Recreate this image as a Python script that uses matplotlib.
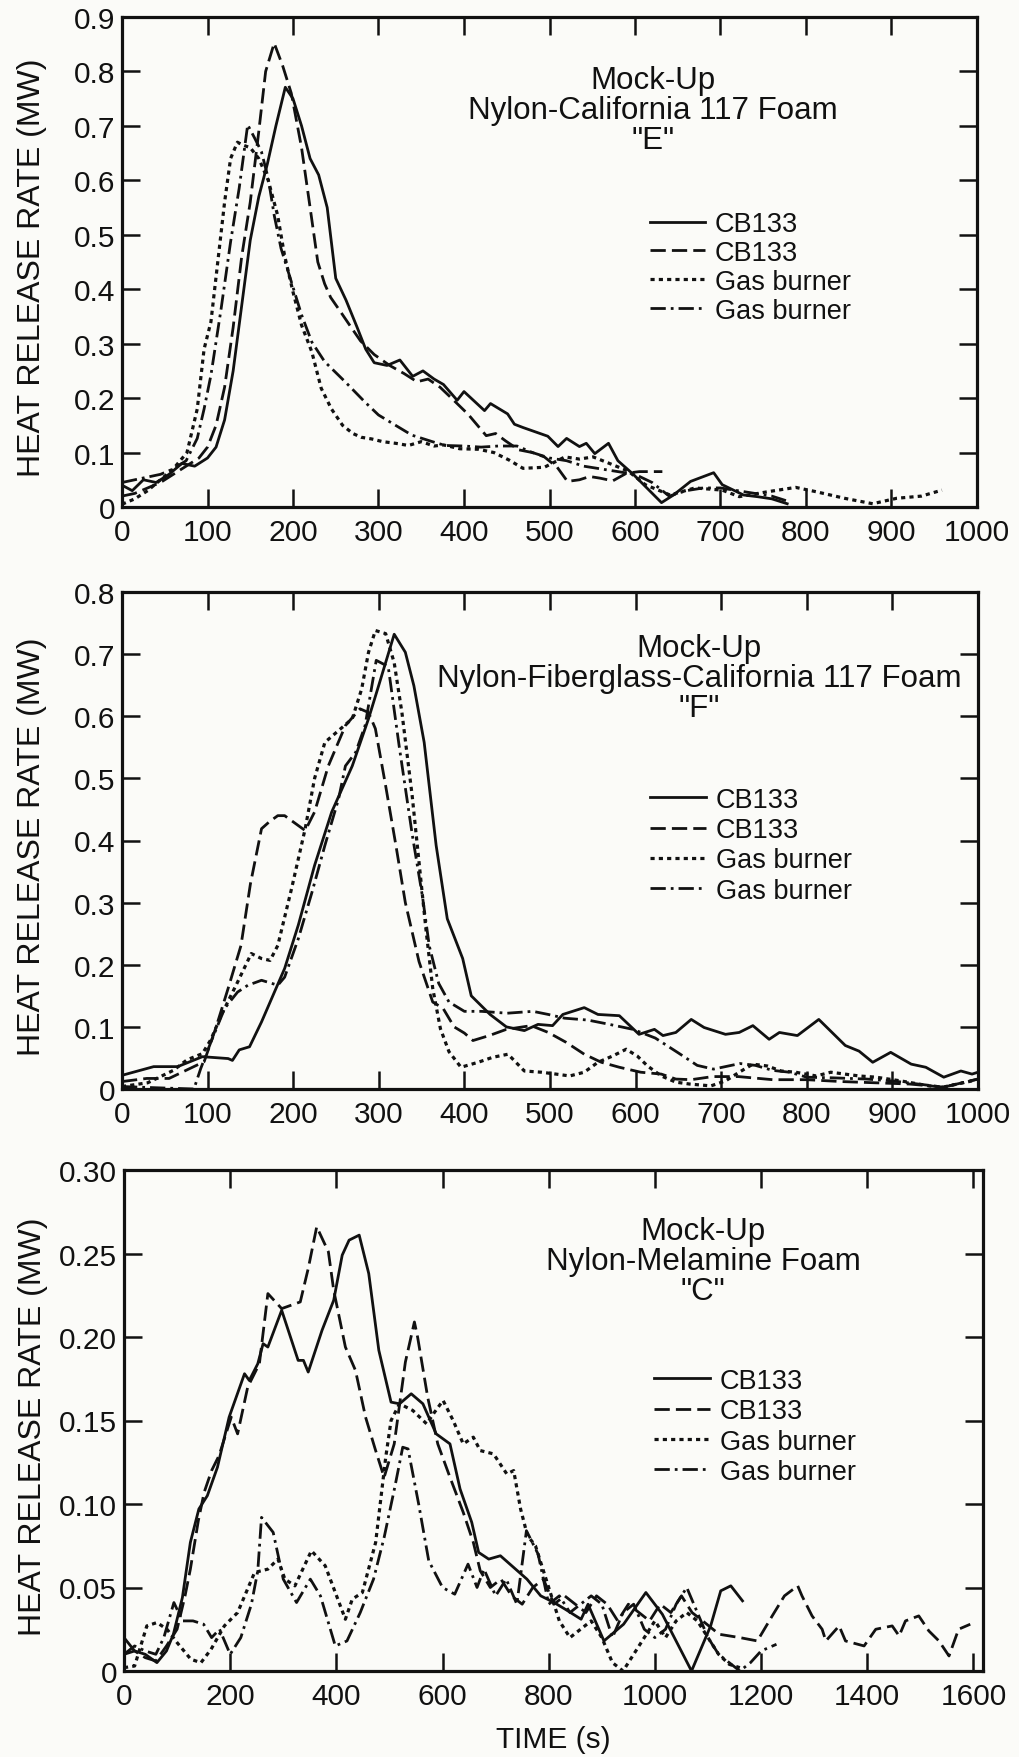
import matplotlib.pyplot as plt

plt.rcParams["font.family"] = ["Liberation Sans", "DejaVu Sans"]

# ---- panel "E": Nylon-California 117 Foam ----
e_cb133_solid_t = [0, 12, 25, 40, 55, 70, 85, 100, 110, 120, 130, 140, 150, 160, 170, 180, 191, 200, 210, 220,
                   230, 240, 250, 262, 275, 285, 295, 310, 325, 340, 352, 365, 376, 392, 400, 424, 431, 451, 459, 469,
                   498, 510, 520, 535, 543, 553, 569, 580, 598, 631, 645, 665, 692, 702, 727, 743, 760, 778]
e_cb133_solid_v = [0.04, 0.03, 0.05, 0.045, 0.06, 0.08, 0.075, 0.09, 0.11, 0.16, 0.25, 0.37, 0.49, 0.57, 0.63, 0.70, 0.771, 0.75, 0.70, 0.64,
                   0.61, 0.55, 0.42, 0.38, 0.33, 0.29, 0.265, 0.26, 0.27, 0.24, 0.25, 0.235, 0.225, 0.196, 0.212, 0.177, 0.19, 0.171, 0.152, 0.146,
                   0.13, 0.111, 0.126, 0.111, 0.117, 0.098, 0.117, 0.085, 0.06, 0.008, 0.022, 0.047, 0.063, 0.041, 0.022, 0.019, 0.015, 0.006]

e_cb133_dash_t = [0, 15, 30, 45, 60, 75, 90, 100, 110, 120, 130, 140, 150, 160, 168, 178, 188, 198, 210, 220,
                  229, 237, 244, 255, 268, 279, 295, 313, 330, 345, 358, 372, 388, 405, 426, 437, 449, 464, 480, 494,
                  509, 521, 535, 547, 559, 574, 590, 605, 632]
e_cb133_dash_v = [0.02, 0.025, 0.035, 0.045, 0.06, 0.075, 0.09, 0.11, 0.15, 0.22, 0.33, 0.46, 0.56, 0.69, 0.80, 0.852, 0.81, 0.76, 0.66, 0.55,
                  0.45, 0.41, 0.385, 0.36, 0.33, 0.305, 0.28, 0.26, 0.245, 0.23, 0.235, 0.22, 0.196, 0.17, 0.131, 0.135, 0.121, 0.105, 0.10, 0.092,
                  0.073, 0.047, 0.05, 0.056, 0.053, 0.048, 0.062, 0.065, 0.065]

e_gas_dot_t = [0, 15, 30, 45, 60, 76, 88, 96, 104, 112, 120, 127, 135, 141, 150, 160, 171, 182, 190, 200,
               210, 222, 233, 245, 258, 270, 280, 292, 305, 320, 335, 350, 365, 376, 395, 417, 435, 453, 469, 494,
               518, 535, 551, 567, 592, 612, 641, 670, 702, 722, 755, 788, 812, 845, 878, 906, 935, 959]
e_gas_dot_v = [0.005, 0.015, 0.03, 0.05, 0.07, 0.10, 0.18, 0.29, 0.34, 0.45, 0.56, 0.64, 0.67, 0.665, 0.66, 0.64, 0.60, 0.536, 0.463, 0.395,
               0.334, 0.285, 0.218, 0.18, 0.15, 0.135, 0.128, 0.125, 0.12, 0.117, 0.113, 0.12, 0.112, 0.114, 0.107, 0.106, 0.10, 0.086, 0.071, 0.073,
               0.092, 0.088, 0.092, 0.082, 0.066, 0.041, 0.022, 0.035, 0.031, 0.019, 0.028, 0.036, 0.028, 0.016, 0.006, 0.016, 0.02, 0.031]

e_gas_dashdot_t = [0, 15, 30, 45, 60, 75, 88, 96, 104, 116, 127, 137, 147, 155, 163, 171, 178, 186, 198, 210,
                   222, 237, 261, 284, 300, 320, 339, 363, 378, 400, 420, 440, 462, 480, 500, 520, 540, 560, 580, 600,
                   620, 640, 660, 680, 700, 720, 740, 760, 780]
e_gas_dashdot_v = [0.045, 0.05, 0.055, 0.06, 0.07, 0.085, 0.126, 0.18, 0.242, 0.365, 0.487, 0.585, 0.702, 0.678, 0.653, 0.604, 0.536, 0.475, 0.414, 0.353,
                   0.303, 0.267, 0.23, 0.193, 0.169, 0.15, 0.132, 0.12, 0.113, 0.112, 0.11, 0.112, 0.112, 0.1, 0.09, 0.085, 0.075, 0.07, 0.065, 0.06,
                   0.045, 0.02, 0.03, 0.035, 0.035, 0.03, 0.025, 0.02, 0.01]

# ---- panel "F": Nylon-Fiberglass-California 117 Foam ----
f_cb133_solid_t = [0, 37, 65, 94, 124, 129, 137, 149, 163, 190, 206, 225, 245, 269, 288, 300, 318, 331, 341, 353,
                   367, 380, 398, 408, 430, 449, 470, 486, 503, 515, 540, 556, 581, 604, 622, 632, 647, 665, 680, 705,
                   721, 737, 756, 768, 789, 814, 845, 861, 877, 898, 922, 939, 960, 980, 993, 1000]
f_cb133_solid_v = [0.022, 0.036, 0.036, 0.052, 0.049, 0.046, 0.063, 0.068, 0.108, 0.194, 0.264, 0.36, 0.446, 0.52, 0.596, 0.65, 0.732, 0.703, 0.649, 0.558,
                   0.392, 0.274, 0.21, 0.15, 0.12, 0.1, 0.094, 0.104, 0.102, 0.12, 0.131, 0.12, 0.118, 0.088, 0.096, 0.086, 0.091, 0.112, 0.099, 0.088,
                   0.091, 0.102, 0.08, 0.091, 0.086, 0.112, 0.07, 0.061, 0.043, 0.059, 0.04, 0.035, 0.019, 0.029, 0.024, 0.027]

f_cb133_dash_t = [0, 29, 55, 96, 110, 124, 139, 150, 163, 172, 182, 190, 200, 214, 225, 241, 261, 278, 288, 296,
                  308, 320, 331, 347, 363, 375, 388, 400, 410, 429, 449, 478, 498, 519, 540, 560, 581, 606, 630, 647,
                  665, 690, 720, 760, 800, 840, 880, 920, 960, 1000]
f_cb133_dash_v = [0.012, 0.017, 0.017, 0.044, 0.1, 0.162, 0.231, 0.33, 0.419, 0.43, 0.44, 0.44, 0.43, 0.416, 0.446, 0.52, 0.585, 0.612, 0.606, 0.58,
                  0.488, 0.392, 0.3, 0.205, 0.14, 0.13, 0.1, 0.09, 0.078, 0.086, 0.096, 0.102, 0.091, 0.075, 0.056, 0.043, 0.035, 0.027, 0.024, 0.016,
                  0.015, 0.02, 0.02, 0.015, 0.015, 0.012, 0.01, 0.008, 0.003, 0.016]

f_gas_dot_t = [0, 30, 60, 76, 94, 104, 116, 135, 151, 163, 173, 182, 198, 214, 225, 237, 253, 269, 280, 288,
               296, 308, 318, 327, 339, 347, 355, 363, 372, 382, 396, 416, 433, 451, 470, 490, 507, 523, 540, 556,
               573, 589, 602, 614, 630, 647, 663, 688, 705, 721, 737, 754, 770, 787, 811, 828, 861, 881, 910, 943,
               959, 993]
f_gas_dot_v = [0.004, 0.01, 0.03, 0.047, 0.057, 0.08, 0.119, 0.172, 0.218, 0.21, 0.207, 0.231, 0.322, 0.419, 0.5, 0.558, 0.577, 0.596, 0.644, 0.703,
               0.738, 0.733, 0.686, 0.606, 0.472, 0.365, 0.258, 0.162, 0.097, 0.06, 0.035, 0.043, 0.051, 0.056, 0.029, 0.027, 0.024, 0.021, 0.027, 0.043,
               0.053, 0.064, 0.053, 0.037, 0.021, 0.011, 0.008, 0.005, 0.013, 0.027, 0.04, 0.037, 0.029, 0.027, 0.021, 0.027, 0.021, 0.019, 0.013, 0.005,
               0.003, 0.013]

f_gas_dashdot_t = [0, 40, 84, 92, 104, 120, 135, 147, 163, 175, 182, 190, 206, 222, 237, 253, 261, 273, 284, 297,
                   311, 324, 339, 351, 359, 370, 382, 400, 420, 450, 480, 498, 517, 544, 566, 597, 623, 650, 672, 691,
                   722, 740, 760, 780, 800, 830, 870, 900, 930, 960, 1000]
f_gas_dashdot_v = [0.004, 0.002, 0.0, 0.033, 0.076, 0.13, 0.156, 0.167, 0.175, 0.17, 0.167, 0.18, 0.242, 0.317, 0.392, 0.467, 0.52, 0.542, 0.585, 0.69,
                   0.68, 0.55, 0.41, 0.31, 0.23, 0.17, 0.14, 0.125, 0.125, 0.122, 0.125, 0.12, 0.114, 0.111, 0.105, 0.096, 0.082, 0.058, 0.038, 0.032,
                   0.041, 0.038, 0.03, 0.027, 0.019, 0.018, 0.016, 0.013, 0.008, 0.003, 0.016]

# ---- panel "C": Nylon-Melamine Foam ----
c_cb133_solid_t = [0, 20, 40, 62, 80, 93, 110, 125, 141, 157, 176, 198, 227, 236, 252, 262, 271, 297, 328, 338,
                   347, 373, 395, 411, 424, 443, 461, 480, 503, 519, 541, 563, 588, 614, 633, 655, 668, 687, 709, 734,
                   759, 785, 810, 831, 861, 874, 904, 941, 983, 1014, 1069, 1105, 1124, 1143, 1165]
c_cb133_solid_v = [0.02, 0.012, 0.01, 0.005, 0.012, 0.022, 0.044, 0.077, 0.097, 0.105, 0.122, 0.152, 0.178, 0.174, 0.184, 0.196, 0.194, 0.216, 0.186, 0.186,
                   0.179, 0.204, 0.222, 0.249, 0.258, 0.261, 0.238, 0.192, 0.161, 0.16, 0.166, 0.16, 0.142, 0.136, 0.109, 0.089, 0.071, 0.067, 0.069, 0.062,
                   0.055, 0.045, 0.041, 0.037, 0.031, 0.04, 0.018, 0.028, 0.047, 0.034, 0.0, 0.027, 0.048, 0.051, 0.042]

c_cb133_dash_t = [0, 20, 40, 60, 80, 100, 115, 125, 140, 151, 165, 179, 202, 214, 233, 255, 271, 297, 332, 347,
                  363, 385, 395, 417, 436, 455, 474, 490, 509, 530, 547, 553, 572, 591, 614, 639, 658, 671, 690, 710,
                  730, 750, 770, 790, 810, 830, 850, 870, 890, 910, 930, 950, 970, 990, 1010, 1030, 1050, 1070, 1090, 1121,
                  1160, 1193, 1221, 1244, 1269, 1277, 1296, 1315, 1322, 1347, 1359, 1394, 1416, 1447, 1460, 1472, 1497, 1516, 1535, 1554,
                  1572, 1594]
c_cb133_dash_v = [0.01, 0.012, 0.008, 0.006, 0.015, 0.025, 0.045, 0.061, 0.09, 0.107, 0.12, 0.129, 0.152, 0.142, 0.17, 0.184, 0.226, 0.217, 0.221, 0.241,
                  0.266, 0.251, 0.228, 0.194, 0.18, 0.152, 0.132, 0.116, 0.136, 0.185, 0.209, 0.2, 0.164, 0.136, 0.116, 0.095, 0.077, 0.06, 0.05, 0.055,
                  0.045, 0.04, 0.05, 0.055, 0.04, 0.045, 0.04, 0.035, 0.045, 0.04, 0.03, 0.04, 0.035, 0.03, 0.04, 0.035, 0.045, 0.035, 0.03, 0.022,
                  0.02, 0.018, 0.033, 0.045, 0.051, 0.045, 0.033, 0.025, 0.018, 0.027, 0.018, 0.015, 0.025, 0.027, 0.021, 0.03, 0.033, 0.024, 0.018, 0.009,
                  0.025, 0.028]

c_gas_dot_t = [0, 20, 43, 62, 81, 100, 126, 145, 164, 189, 214, 246, 271, 290, 303, 322, 353, 379, 398, 417,
               430, 449, 474, 493, 503, 519, 544, 570, 585, 601, 620, 639, 658, 671, 696, 721, 734, 747, 760, 775,
               790, 805, 820, 840, 860, 880, 900, 920, 940, 960, 980, 1000, 1020, 1040, 1060, 1080, 1100, 1120, 1140, 1160]
c_gas_dot_v = [0.002, 0.003, 0.027, 0.029, 0.025, 0.017, 0.007, 0.005, 0.013, 0.027, 0.035, 0.059, 0.061, 0.067, 0.055, 0.051, 0.072, 0.063, 0.047, 0.031,
               0.043, 0.047, 0.077, 0.128, 0.15, 0.16, 0.156, 0.148, 0.155, 0.162, 0.15, 0.136, 0.14, 0.132, 0.13, 0.118, 0.12, 0.097, 0.081, 0.075,
               0.06, 0.045, 0.03, 0.02, 0.025, 0.03, 0.02, 0.005, 0.0, 0.01, 0.02, 0.03, 0.02, 0.03, 0.035, 0.03, 0.02, 0.01, 0.004, 0.002]

c_gas_dashdot_t = [0, 20, 40, 60, 75, 94, 110, 130, 150, 165, 180, 200, 220, 240, 252, 259, 281, 300, 325, 351,
                   370, 398, 420, 445, 470, 490, 510, 525, 535, 555, 574, 600, 623, 648, 665, 678, 700, 720, 740, 758,
                   780, 800, 820, 840, 860, 880, 900, 920, 940, 960, 980, 1000, 1020, 1040, 1060, 1080, 1100, 1120, 1140, 1160,
                   1180, 1200, 1229]
c_gas_dashdot_v = [0.01, 0.015, 0.012, 0.01, 0.02, 0.041, 0.03, 0.03, 0.028, 0.02, 0.025, 0.01, 0.02, 0.04, 0.06, 0.092, 0.083, 0.055, 0.041, 0.055,
                   0.045, 0.015, 0.018, 0.035, 0.055, 0.08, 0.11, 0.134, 0.133, 0.1, 0.066, 0.05, 0.046, 0.064, 0.05, 0.061, 0.045, 0.055, 0.04, 0.084,
                   0.07, 0.04, 0.045, 0.035, 0.04, 0.045, 0.04, 0.02, 0.035, 0.04, 0.025, 0.02, 0.025, 0.04, 0.05, 0.035, 0.02, 0.01, 0.005, 0.0,
                   0.005, 0.012, 0.016]

series_labels = ["CB133", "CB133", "Gas burner", "Gas burner"]

e_yticks = [0, 0.1, 0.2, 0.3, 0.4, 0.5, 0.6, 0.7, 0.8, 0.9]
e_yticklabels = ["0", "0.1", "0.2", "0.3", "0.4", "0.5", "0.6", "0.7", "0.8", "0.9"]
f_yticks = [0, 0.1, 0.2, 0.3, 0.4, 0.5, 0.6, 0.7, 0.8]
f_yticklabels = ["0", "0.1", "0.2", "0.3", "0.4", "0.5", "0.6", "0.7", "0.8"]
c_yticks = [0, 0.05, 0.10, 0.15, 0.20, 0.25, 0.30]
c_yticklabels = ["0", "0.05", "0.10", "0.15", "0.20", "0.25", "0.30"]
ef_xticks = [0, 100, 200, 300, 400, 500, 600, 700, 800, 900, 1000]
c_xticks = [0, 200, 400, 600, 800, 1000, 1200, 1400, 1600]

LINE_STYLES = [
    dict(linestyle="-", linewidth=2.0),
    dict(linestyle=(0, (5.5, 2.2)), linewidth=2.0),
    dict(linestyle=(0, (1.3, 1.3)), linewidth=2.3),
    dict(linestyle=(0, (5.5, 1.8, 1.0, 1.8)), linewidth=2.0),
]
INK = "#111111"
PAPER = "#fbfbf8"

W, H = 1019, 1758


def panel_axes(fig, left, right, top, bottom):
    # pixel box -> figure fraction
    return fig.add_axes([left / W, 1 - bottom / H, (right - left) / W, (bottom - top) / H])


def draw_panel(ax, series, xlim, xticks, ylim, yticks, yticklabels, title, title_xy, legend_xy, legend_spacing=0.16):
    for (t, v), style, label in zip(series, LINE_STYLES, series_labels):
        ax.plot(t, v, color=INK, label=label, **style)

    ax.set_xlim(*xlim)
    ax.set_ylim(*ylim)
    ax.set_xticks(xticks)
    ax.set_xticklabels([str(x) for x in xticks])
    ax.set_yticks(yticks)
    ax.set_yticklabels(yticklabels)
    ax.set_facecolor(PAPER)
    for spine in ax.spines.values():
        spine.set_linewidth(2.3)
        spine.set_color(INK)
    ax.tick_params(axis="both", direction="in", length=13, width=1.8, top=True, right=True,
                   labelsize=21.5, colors=INK)
    ax.tick_params(axis="y", pad=5)
    ax.tick_params(axis="x", pad=8)

    ax.set_ylabel("HEAT RELEASE RATE (MW)", fontsize=23, color=INK)
    ax.yaxis.set_label_coords(-0.088, 0.49)

    ax.text(title_xy[0], title_xy[1], title, transform=ax.transAxes, ha="center", va="center",
            multialignment="center", fontsize=22.5, linespacing=1.0, color=INK)

    leg = ax.legend(loc="upper left", bbox_to_anchor=legend_xy, frameon=False, fontsize=19.5,
                    handlelength=2.05, handletextpad=0.37, labelspacing=legend_spacing,
                    borderpad=0, borderaxespad=0)
    for text in leg.get_texts():
        text.set_color(INK)


fig = plt.figure(figsize=(W / 100, H / 100), dpi=100)
fig.patch.set_facecolor(PAPER)

ax_e = panel_axes(fig, 122, 977, 18, 508)
draw_panel(
    ax_e,
    [(e_cb133_solid_t, e_cb133_solid_v), (e_cb133_dash_t, e_cb133_dash_v),
     (e_gas_dot_t, e_gas_dot_v), (e_gas_dashdot_t, e_gas_dashdot_v)],
    (0, 1000), ef_xticks, (0, 0.9), e_yticks, e_yticklabels,
    'Mock-Up\nNylon-California 117 Foam\n"E"', (0.621, 0.81), (0.617, 0.604), legend_spacing=0.105,
)

ax_f = panel_axes(fig, 122, 978, 593, 1090)
draw_panel(
    ax_f,
    [(f_cb133_solid_t, f_cb133_solid_v), (f_cb133_dash_t, f_cb133_dash_v),
     (f_gas_dot_t, f_gas_dot_v), (f_gas_dashdot_t, f_gas_dashdot_v)],
    (0, 1000), ef_xticks, (0, 0.8), f_yticks, f_yticklabels,
    'Mock-Up\nNylon-Fiberglass-California 117 Foam\n"F"', (0.674, 0.826), (0.617, 0.608),
)

ax_c = panel_axes(fig, 124, 983, 1171, 1672)
draw_panel(
    ax_c,
    [(c_cb133_solid_t, c_cb133_solid_v), (c_cb133_dash_t, c_cb133_dash_v),
     (c_gas_dot_t, c_gas_dot_v), (c_gas_dashdot_t, c_gas_dashdot_v)],
    (0, 1618), c_xticks, (0, 0.30), c_yticks, c_yticklabels,
    'Mock-Up\nNylon-Melamine Foam\n"C"', (0.674, 0.818), (0.617, 0.605),
)
ax_c.set_xlabel("TIME (s)", fontsize=21.5, color=INK)
ax_c.xaxis.set_label_coords(0.5, -0.108)

fig.savefig("out.png", dpi=100, facecolor=fig.get_facecolor())
plt.close(fig)
